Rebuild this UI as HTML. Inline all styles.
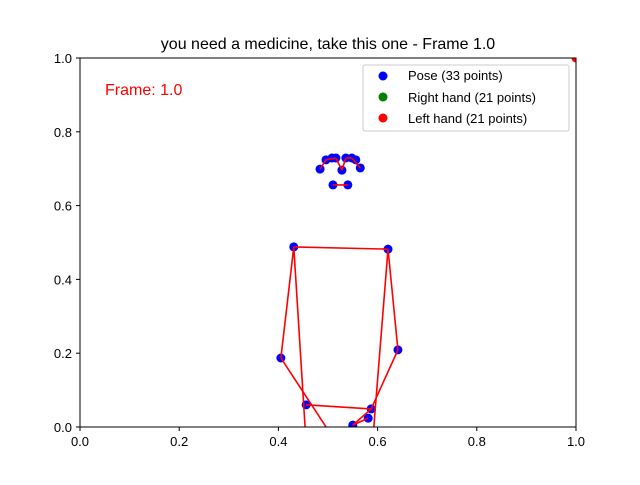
<!DOCTYPE html>
<html><head><meta charset="utf-8"><style>
body{margin:0;background:#fff}
svg{font-family:"Liberation Sans","DejaVu Sans",sans-serif}
</style></head><body>
<svg width="640" height="480" viewBox="0 0 640 480">
<rect width="640" height="480" fill="#fff"/>
<text x="328" y="49" text-anchor="middle" font-size="16">you need a medicine, take this one - Frame 1.0</text>
<defs><clipPath id="ax"><rect x="80" y="58" width="496" height="369"/></clipPath></defs>
<g id="plot" clip-path="url(#ax)"></g>
<rect x="80" y="58" width="496" height="369" fill="none" stroke="#000" stroke-width="1"/>
<g id="ticks"></g>
<text x="105" y="95" fill="red" font-size="16">Frame: 1.0</text>
<g>
<rect x="363" y="65" width="206" height="66" rx="2" fill="#fff" fill-opacity="0.8" stroke="#ccc"/>
<circle cx="383" cy="76" r="4.5" fill="blue"/><text x="408" y="80" font-size="13">Pose (33 points)</text>
<circle cx="383" cy="97" r="4.5" fill="green"/><text x="408" y="102" font-size="13">Right hand (21 points)</text>
<circle cx="383" cy="118" r="4.5" fill="red"/><text x="408" y="123" font-size="13">Left hand (21 points)</text>
</g>
</svg>
<script>
const poseX=[0.528,0.516,0.508,0.496,0.536,0.548,0.556,0.484,0.565,0.510,0.540,0.431,0.621,0.405,0.641,0.540,0.587,0.581,0.550,0.456,0.587,0.458];
const poseY=[0.696,0.729,0.729,0.724,0.729,0.729,0.724,0.699,0.702,0.656,0.656,0.488,0.482,0.187,0.209,-0.09,0.049,0.024,0.005,0.060,-0.09,-0.09];
const segA=[7,3,1,0,4,5,9,11,11,13,12,14,11,12,19,16,17];
const segB=[3,1,0,4,5,8,10,12,13,15,14,16,21,20,16,18,18];
const leftHandX=[1.0];
const leftHandY=[1.0];
const ticks=[0,0.2,0.4,0.6,0.8,1.0];
const tickLabels=["0.0","0.2","0.4","0.6","0.8","1.0"];
const NS="http://www.w3.org/2000/svg";
const sx=v=>80+v*496, sy=v=>427-v*369;
const plot=document.getElementById('plot'), tg=document.getElementById('ticks');
function mk(tag,attrs,parent){const e=document.createElementNS(NS,tag);for(const k in attrs)e.setAttribute(k,attrs[k]);parent.appendChild(e);return e;}
for(let i=0;i<poseX.length;i++){if(poseY[i]<0)continue;const c=mk('circle',{cx:sx(poseX[i]),cy:sy(poseY[i]),r:4.5,fill:'blue'},plot);

}
for(let i=0;i<segA.length;i++){const a=segA[i],b=segB[i];const l=mk('line',{x1:sx(poseX[a]),y1:sy(poseY[a]),x2:sx(poseX[b]),y2:sy(poseY[b]),stroke:'red','stroke-width':1.6},plot);

}
for(let i=0;i<leftHandX.length;i++){const c=mk('circle',{cx:sx(leftHandX[i]),cy:sy(leftHandY[i]),r:4.5,fill:'red'},plot);

}
ticks.forEach((t,i)=>{
mk('line',{x1:sx(t),x2:sx(t),y1:427,y2:431,stroke:'#000'},tg);
const xl=mk('text',{x:sx(t),y:446,'text-anchor':'middle','font-size':13},tg);xl.textContent=tickLabels[i];


mk('line',{x1:76,x2:80,y1:sy(t),y2:sy(t),stroke:'#000'},tg);
const yl=mk('text',{x:72,y:sy(t)+5,'text-anchor':'end','font-size':13},tg);yl.textContent=tickLabels[i];


});
</script>
</body></html>
